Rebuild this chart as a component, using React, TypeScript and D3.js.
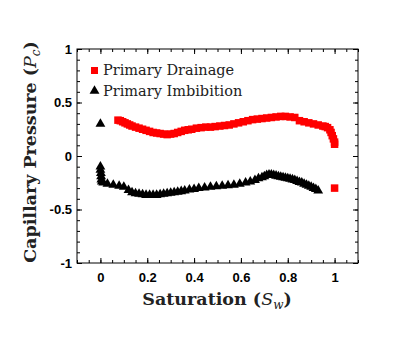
import React, { useRef, useEffect } from "react";
import { select, scaleLinear, axisLeft, axisRight, axisBottom, axisTop, range, symbol, symbolTriangle } from "d3";

// drainage (red squares)
const drainX = [0.075, 0.085, 0.095, 0.105, 0.115, 0.125, 0.135, 0.15, 0.165, 0.18, 0.195, 0.21, 0.225, 0.24, 0.255, 0.27, 0.285, 0.3, 0.315, 0.33, 0.345, 0.36, 0.375, 0.39, 0.41, 0.43, 0.45, 0.47, 0.49, 0.51, 0.53, 0.55, 0.57, 0.59, 0.61, 0.63, 0.65, 0.67, 0.69, 0.71, 0.73, 0.75, 0.77, 0.79, 0.81, 0.83, 0.85, 0.87, 0.89, 0.91, 0.93, 0.95, 0.96, 0.97, 0.98, 0.985, 0.99, 0.995, 1.0, 1.0, 1.0];
const drainY = [0.335, 0.33, 0.32, 0.31, 0.3, 0.29, 0.28, 0.27, 0.26, 0.25, 0.24, 0.23, 0.22, 0.215, 0.21, 0.205, 0.2, 0.205, 0.21, 0.22, 0.23, 0.24, 0.245, 0.25, 0.26, 0.265, 0.27, 0.27, 0.275, 0.28, 0.285, 0.29, 0.3, 0.31, 0.32, 0.33, 0.34, 0.345, 0.35, 0.355, 0.36, 0.365, 0.37, 0.37, 0.365, 0.36, 0.33, 0.32, 0.31, 0.3, 0.29, 0.28, 0.275, 0.265, 0.245, 0.22, 0.19, 0.16, 0.13, 0.11, -0.3];

// imbibition (black triangles)
const imbX = [0, 0, 0, 0.002, 0.003, 0.004, 0.006, 0.012, 0.03, 0.055, 0.08, 0.1, 0.12, 0.135, 0.15, 0.165, 0.18, 0.195, 0.21, 0.225, 0.24, 0.255, 0.27, 0.285, 0.3, 0.315, 0.33, 0.345, 0.36, 0.38, 0.4, 0.42, 0.445, 0.47, 0.495, 0.52, 0.545, 0.57, 0.595, 0.62, 0.64, 0.66, 0.675, 0.69, 0.7, 0.71, 0.72, 0.73, 0.74, 0.75, 0.76, 0.77, 0.78, 0.79, 0.8, 0.81, 0.82, 0.83, 0.84, 0.85, 0.86, 0.87, 0.88, 0.89, 0.9, 0.91, 0.92, 0.93];
const imbY = [0.3, -0.1, -0.13, -0.16, -0.19, -0.22, -0.24, -0.25, -0.26, -0.27, -0.28, -0.29, -0.32, -0.34, -0.35, -0.355, -0.36, -0.365, -0.365, -0.365, -0.365, -0.36, -0.355, -0.35, -0.345, -0.34, -0.335, -0.33, -0.325, -0.315, -0.31, -0.3, -0.295, -0.29, -0.285, -0.28, -0.275, -0.27, -0.26, -0.25, -0.24, -0.225, -0.21, -0.2, -0.19, -0.18, -0.175, -0.175, -0.18, -0.185, -0.19, -0.195, -0.2, -0.205, -0.21, -0.215, -0.22, -0.225, -0.235, -0.245, -0.25, -0.26, -0.27, -0.28, -0.29, -0.3, -0.31, -0.325];

const xTicks = [0, 0.2, 0.4, 0.6, 0.8, 1];
const yTicks = [-1, -0.5, 0, 0.5, 1];
const legendLabels = ["Primary Drainage", "Primary Imbibition"];

function App() {
  const svgRef = useRef(null);

  useEffect(() => {
    const svg = select(svgRef.current);
    svg.selectAll("*").remove();

    const left = 77, right = 358, top = 49, bottom = 263;
    const x = scaleLinear().domain([-0.1, 1.1]).range([left, right]);
    const y = scaleLinear().domain([-1, 1]).range([bottom, top]);

    const tickFont = "'Liberation Sans', Arial, sans-serif";
    const serif = "'DejaVu Serif', serif";

    // minor ticks
    const xMinor = range(-0.1, 1.1001, 0.05).map((v) => +v.toFixed(2));
    const yMinor = range(-1, 1.0001, 0.1).map((v) => +v.toFixed(1));

    const styleAxis = (g) => {
      g.select(".domain").remove();
      g.selectAll("line").attr("stroke", "#000");
    };

    svg.append("g").attr("transform", `translate(0,${bottom})`)
      .call(axisTop(x).tickValues(xMinor).tickSize(3).tickFormat(() => "")).call(styleAxis);
    svg.append("g").attr("transform", `translate(0,${top})`)
      .call(axisBottom(x).tickValues(xMinor).tickSize(3).tickFormat(() => "")).call(styleAxis);
    svg.append("g").attr("transform", `translate(${left},0)`)
      .call(axisRight(y).tickValues(yMinor).tickSize(3).tickFormat(() => "")).call(styleAxis);
    svg.append("g").attr("transform", `translate(${right},0)`)
      .call(axisLeft(y).tickValues(yMinor).tickSize(3).tickFormat(() => "")).call(styleAxis);

    // major ticks
    svg.append("g").attr("transform", `translate(0,${top})`)
      .call(axisBottom(x).tickValues(xTicks).tickSize(5).tickFormat(() => "")).call(styleAxis);
    svg.append("g").attr("transform", `translate(${right},0)`)
      .call(axisLeft(y).tickValues(yTicks).tickSize(5).tickFormat(() => "")).call(styleAxis);

    const xAxis = svg.append("g").attr("transform", `translate(0,${bottom})`)
      .call(axisBottom(x).tickValues(xTicks).tickSizeInner(-5).tickSizeOuter(0).tickPadding(10).tickFormat((d) => String(d)));
    xAxis.call(styleAxis);
    xAxis.selectAll("text").attr("font-family", tickFont).attr("font-weight", "bold").attr("font-size", 13).attr("fill", "#000");

    const yAxis = svg.append("g").attr("transform", `translate(${left},0)`)
      .call(axisLeft(y).tickValues(yTicks).tickSizeInner(-5).tickSizeOuter(0).tickPadding(5).tickFormat((d) => String(d)));
    yAxis.call(styleAxis);
    yAxis.selectAll("text").attr("font-family", tickFont).attr("font-weight", "bold").attr("font-size", 13).attr("fill", "#000");

    // frame
    svg.append("rect")
      .attr("x", left).attr("y", top)
      .attr("width", right - left).attr("height", bottom - top)
      .attr("fill", "none").attr("stroke", "#000").attr("stroke-width", 1);

    // markers
    const tri = symbol().type(symbolTriangle).size(42);
    svg.append("g").selectAll("path")
      .data(imbX.map((d, i) => [d, imbY[i]]))
      .enter().append("path")
      .attr("d", tri)
      .attr("transform", (d) => `translate(${x(d[0])},${y(d[1])})`)
      .attr("fill", "#000");

    svg.append("g").selectAll("rect")
      .data(drainX.map((d, i) => [d, drainY[i]]))
      .enter().append("rect")
      .attr("x", (d) => x(d[0]) - 3.75).attr("y", (d) => y(d[1]) - 3.75)
      .attr("width", 7.5).attr("height", 7.5)
      .attr("fill", "#ff0000");

    // legend
    const lg = svg.append("g");
    lg.append("rect").attr("x", 91).attr("y", 67).attr("width", 7).attr("height", 7).attr("fill", "#ff0000");
    lg.append("path").attr("d", tri).attr("transform", "translate(94.5,91)").attr("fill", "#000");
    lg.selectAll("text").data(legendLabels).enter().append("text")
      .attr("x", 103).attr("y", (d, i) => 75 + i * 21)
      .attr("font-family", serif).attr("font-size", 14.5).attr("fill", "#222")
      .text((d) => d);

    // axis titles
    const xt = svg.append("text").attr("x", 217).attr("y", 305).attr("text-anchor", "middle")
      .attr("font-family", serif).attr("font-weight", "bold").attr("font-size", 17.5).attr("fill", "#222");
    xt.append("tspan").text("Saturation (");
    xt.append("tspan").attr("font-style", "italic").attr("font-weight", "normal").text("S");
    xt.append("tspan").attr("font-style", "italic").attr("font-weight", "normal").attr("font-size", 12).attr("dy", 4).text("w");
    xt.append("tspan").attr("dy", -4).text(")");

    const yt = svg.append("text").attr("transform", "translate(36,152) rotate(-90)").attr("text-anchor", "middle")
      .attr("font-family", serif).attr("font-weight", "bold").attr("font-size", 17.5).attr("fill", "#222");
    yt.append("tspan").text("Capillary Pressure (");
    yt.append("tspan").attr("font-style", "italic").attr("font-weight", "normal").text("P");
    yt.append("tspan").attr("font-style", "italic").attr("font-weight", "normal").attr("font-size", 12).attr("dy", 4).text("c");
    yt.append("tspan").attr("dy", -4).text(")");
  }, []);

  return (
    <div style={{ position: "absolute", left: 0, top: 0 }}>
      <svg ref={svgRef} width={412} height={347} style={{ display: "block", background: "#fff" }}></svg>
    </div>
  );
}

export default App;
